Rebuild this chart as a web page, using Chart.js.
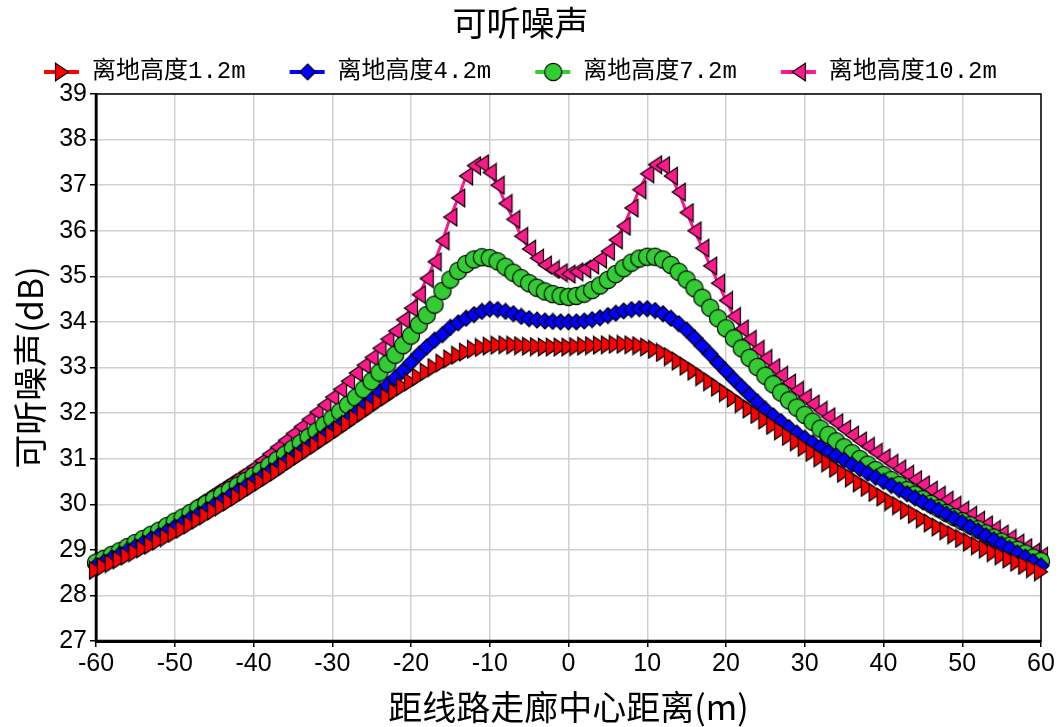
<!DOCTYPE html>
<html>
<head>
<meta charset="utf-8">
<script src="https://cdn.jsdelivr.net/npm/chart.js@4/dist/chart.umd.min.js"></script>
<style>
  html, body { margin: 0; padding: 0; background: #ffffff; }
  #wrap { width: 1059px; height: 727px; }
</style>
</head>
<body>
<div id="wrap"><canvas id="chart" width="1059" height="727"></canvas></div>
<script>
// Distance from the corridor centre line (m)
const distances = [
  -60, -59, -58, -57, -56, -55, -54, -53, -52, -51,
  -50, -49, -48, -47, -46, -45, -44, -43, -42, -41,
  -40, -39, -38, -37, -36, -35, -34, -33, -32, -31,
  -30, -29, -28, -27, -26, -25, -24, -23, -22, -21,
  -20, -19, -18, -17, -16, -15, -14, -13, -12, -11,
  -10, -9, -8, -7, -6, -5, -4, -3, -2, -1,
  0,
  1, 2, 3, 4, 5, 6, 7, 8, 9, 10,
  11, 12, 13, 14, 15, 16, 17, 18, 19, 20,
  21, 22, 23, 24, 25, 26, 27, 28, 29, 30,
  31, 32, 33, 34, 35, 36, 37, 38, 39, 40,
  41, 42, 43, 44, 45, 46, 47, 48, 49, 50,
  51, 52, 53, 54, 55, 56, 57, 58, 59, 60
];

// Audible noise (dB) at 1.2 m above ground
const noiseH12 = [
  28.55, 28.63, 28.70, 28.78, 28.86, 28.94, 29.02, 29.10, 29.19, 29.27,
  29.36, 29.45, 29.55, 29.65, 29.75, 29.85, 29.95, 30.05, 30.16, 30.27,
  30.38, 30.49, 30.60, 30.71, 30.83, 30.95, 31.06, 31.18, 31.29, 31.41,
  31.52, 31.64, 31.76, 31.88, 32.00, 32.12, 32.24, 32.35, 32.47, 32.58,
  32.68, 32.79, 32.90, 33.00, 33.10, 33.19, 33.27, 33.34, 33.40, 33.44,
  33.47, 33.49, 33.50, 33.49, 33.48, 33.47, 33.46, 33.45, 33.45, 33.45,
  33.45,
  33.46, 33.47, 33.48, 33.49, 33.50, 33.51, 33.51, 33.50, 33.48, 33.45,
  33.40, 33.33, 33.24, 33.14, 33.03, 32.92, 32.80, 32.69, 32.57, 32.45,
  32.33, 32.21, 32.09, 31.97, 31.85, 31.73, 31.61, 31.49, 31.37, 31.25,
  31.14, 31.02, 30.91, 30.79, 30.68, 30.58, 30.47, 30.37, 30.26, 30.16,
  30.06, 29.97, 29.87, 29.78, 29.68, 29.59, 29.50, 29.42, 29.33, 29.25,
  29.17, 29.09, 29.02, 28.94, 28.87, 28.80, 28.73, 28.66, 28.59, 28.52
];

// Audible noise (dB) at 4.2 m above ground
const noiseH42 = [
  28.65, 28.73, 28.82, 28.90, 28.99, 29.07, 29.15, 29.24, 29.32, 29.41,
  29.50, 29.59, 29.69, 29.78, 29.88, 29.98, 30.08, 30.18, 30.29, 30.39,
  30.50, 30.60, 30.71, 30.81, 30.92, 31.03, 31.15, 31.26, 31.38, 31.50,
  31.62, 31.74, 31.86, 32.00, 32.15, 32.29, 32.44, 32.61, 32.77, 32.93,
  33.11, 33.29, 33.45, 33.60, 33.72, 33.88, 33.98, 34.08, 34.16, 34.23,
  34.28, 34.27, 34.23, 34.18, 34.12, 34.07, 34.04, 34.02, 34.01, 34.00,
  34.00,
  34.00, 34.02, 34.05, 34.09, 34.14, 34.19, 34.24, 34.27, 34.29, 34.29,
  34.25, 34.18, 34.08, 33.96, 33.82, 33.65, 33.47, 33.29, 33.10, 32.92,
  32.74, 32.57, 32.40, 32.24, 32.08, 31.94, 31.81, 31.68, 31.56, 31.45,
  31.35, 31.25, 31.15, 31.06, 30.97, 30.87, 30.78, 30.68, 30.59, 30.50,
  30.41, 30.32, 30.23, 30.14, 30.05, 29.96, 29.87, 29.78, 29.69, 29.60,
  29.50, 29.41, 29.31, 29.22, 29.12, 29.03, 28.93, 28.84, 28.74, 28.65
];

// Audible noise (dB) at 7.2 m above ground
const noiseH72 = [
  28.72, 28.80, 28.89, 28.97, 29.06, 29.15, 29.24, 29.33, 29.42, 29.52,
  29.62, 29.71, 29.81, 29.91, 30.01, 30.11, 30.21, 30.31, 30.41, 30.51,
  30.62, 30.73, 30.85, 30.97, 31.09, 31.22, 31.34, 31.47, 31.60, 31.74,
  31.88, 32.03, 32.18, 32.34, 32.52, 32.70, 32.89, 33.08, 33.28, 33.49,
  33.70, 33.94, 34.15, 34.38, 34.68, 34.93, 35.12, 35.27, 35.37, 35.42,
  35.40, 35.33, 35.21, 35.08, 34.96, 34.85, 34.75, 34.67, 34.61, 34.57,
  34.55,
  34.57, 34.62, 34.70, 34.80, 34.92, 35.05, 35.18, 35.30, 35.39, 35.43,
  35.43, 35.37, 35.25, 35.10, 34.93, 34.74, 34.53, 34.31, 34.08, 33.86,
  33.64, 33.42, 33.21, 33.01, 32.82, 32.63, 32.45, 32.28, 32.12, 31.96,
  31.81, 31.66, 31.52, 31.38, 31.25, 31.12, 30.99, 30.87, 30.75, 30.64,
  30.53, 30.42, 30.31, 30.21, 30.11, 30.01, 29.91, 29.81, 29.72, 29.63,
  29.54, 29.45, 29.36, 29.27, 29.18, 29.09, 29.00, 28.92, 28.83, 28.75
];

// Audible noise (dB) at 10.2 m above ground
const noiseH102 = [
  28.78, 28.86, 28.94, 29.03, 29.11, 29.20, 29.29, 29.38, 29.48, 29.58,
  29.68, 29.79, 29.90, 30.02, 30.13, 30.25, 30.36, 30.47, 30.58, 30.69,
  30.81, 30.95, 31.10, 31.25, 31.40, 31.55, 31.70, 31.86, 32.02, 32.18,
  32.35, 32.52, 32.70, 32.88, 33.05, 33.22, 33.42, 33.62, 33.80, 34.05,
  34.30, 34.60, 34.95, 35.32, 35.78, 36.30, 36.72, 37.20, 37.43, 37.47,
  37.28, 37.00, 36.60, 36.25, 35.88, 35.60, 35.40, 35.25, 35.15, 35.08,
  35.05,
  35.10, 35.16, 35.25, 35.38, 35.55, 35.80, 36.10, 36.50, 36.90, 37.25,
  37.45, 37.43, 37.20, 36.85, 36.40, 36.00, 35.62, 35.23, 34.85, 34.47,
  34.12, 33.85, 33.62, 33.40, 33.20, 33.00, 32.83, 32.66, 32.50, 32.34,
  32.20, 32.06, 31.92, 31.79, 31.65, 31.52, 31.39, 31.27, 31.14, 31.02,
  30.90, 30.78, 30.66, 30.54, 30.43, 30.31, 30.20, 30.09, 29.98, 29.87,
  29.76, 29.65, 29.55, 29.45, 29.35, 29.25, 29.15, 29.05, 28.95, 28.86
];

const seriesNames = ['离地高度1.2m', '离地高度4.2m', '离地高度7.2m', '离地高度10.2m'];
const yTicks = [27, 28, 29, 30, 31, 32, 33, 34, 35, 36, 37, 38, 39];
const xTicks = [-60, -50, -40, -30, -20, -10, 0, 10, 20, 30, 40, 50, 60];

const CJK = '"Noto Sans CJK SC", "Noto Sans", sans-serif';
const LATIN = '"Liberation Sans", Arial, sans-serif';

// ---- marker sprites -------------------------------------------------------
function sprite(w, h, draw) {
  const c = document.createElement('canvas');
  c.width = w; c.height = h;
  const g = c.getContext('2d');
  g.lineJoin = 'miter';
  draw(g);
  return c;
}
function outline(g, fill) {
  g.fillStyle = fill; g.fill();
  g.lineWidth = 1.2; g.strokeStyle = '#000000'; g.stroke();
}
const triRight = fill => sprite(16, 20, g => {
  g.beginPath(); g.moveTo(1.5, 1.2); g.lineTo(14.6, 10); g.lineTo(1.5, 18.8); g.closePath(); outline(g, fill);
});
const triLeft = fill => sprite(16, 20, g => {
  g.beginPath(); g.moveTo(14.5, 1.2); g.lineTo(1.4, 10); g.lineTo(14.5, 18.8); g.closePath(); outline(g, fill);
});
const diamond = fill => sprite(18, 18, g => {
  g.beginPath(); g.moveTo(9, 1); g.lineTo(17, 9); g.lineTo(9, 17); g.lineTo(1, 9); g.closePath(); outline(g, fill);
});
const disc = fill => sprite(20, 20, g => {
  g.beginPath(); g.arc(10, 10, 8.6, 0, Math.PI * 2); outline(g, fill);
});

const colours = ['#ff0000', '#0000ff', '#33cc33', '#ff1493'];
const markers = [triRight('#ff0000'), diamond('#0000ff'), disc('#33cc33'), triLeft('#ff1a8c')];

// legend swatch: short line with the marker in its middle
const SWATCH_W = 66;
function swatch(colour, marker) {
  return sprite(SWATCH_W, 24, g => {
    g.strokeStyle = colour; g.lineWidth = 4;
    g.beginPath(); g.moveTo(30, 12); g.lineTo(65, 12); g.stroke();
    g.drawImage(marker, Math.round(47.5 - marker.width / 2), Math.round(12 - marker.height / 2));
  });
}
const swatches = colours.map((c, i) => swatch(c, markers[i]));

const seriesValues = [noiseH12, noiseH42, noiseH72, noiseH102];

const datasets = seriesValues.map((vals, i) => ({
  label: seriesNames[i],
  data: distances.map((d, k) => ({ x: d, y: vals[k] })),
  borderColor: colours[i],
  backgroundColor: colours[i],
  borderWidth: 3,
  pointStyle: markers[i],
  pointRadius: 9,
  pointHoverRadius: 9,
  tension: 0,
  clip: false
}));

// black frame around the plot area
const plotFrame = {
  id: 'plotFrame',
  beforeDatasetsDraw(chart) {
    const { ctx, chartArea: a } = chart;
    ctx.save();
    ctx.strokeStyle = '#000000';
    ctx.lineWidth = 1.5;
    ctx.strokeRect(a.left, a.top, a.right - a.left, a.bottom - a.top);
    ctx.lineWidth = 2.5;
    ctx.beginPath();
    ctx.moveTo(a.left, a.top); ctx.lineTo(a.left, a.bottom); ctx.lineTo(a.right, a.bottom);
    ctx.stroke();
    ctx.restore();
  }
};

new Chart(document.getElementById('chart'), {
  type: 'line',
  data: { datasets },
  plugins: [plotFrame],
  options: {
    responsive: false,
    animation: false,
    devicePixelRatio: 1,
    layout: { padding: { top: 0, right: 18, bottom: 0, left: 0 } },
    plugins: {
      tooltip: { enabled: false },
      title: {
        display: true,
        text: '可听噪声',
        color: '#000000',
        font: { family: CJK, size: 34, weight: 'normal' },
        padding: { top: 2.6, bottom: 2.6 }
      },
      legend: {
        display: true,
        align: 'start',
        labels: {
          color: '#000000',
          font: { family: '"Liberation Mono", ' + CJK, size: 24 },
          padding: 14,
          usePointStyle: true,
          pointStyleWidth: SWATCH_W,
          generateLabels(chart) {
            return chart.data.datasets.map((ds, i) => ({
              text: ds.label,
              fillStyle: colours[i],
              strokeStyle: colours[i],
              fontColor: '#000000',
              lineWidth: 0,
              pointStyle: swatches[i],
              hidden: false,
              datasetIndex: i
            }));
          }
        }
      }
    },
    scales: {
      x: {
        type: 'linear',
        min: -60,
        max: 60,
        afterBuildTicks(axis) { axis.ticks = xTicks.map(v => ({ value: v })); },
        afterFit(axis) { axis.height = 86; },
        ticks: {
          color: '#000000',
          font: { family: LATIN, size: 25 },
          padding: 2,
          maxRotation: 0
        },
        grid: { color: '#d0d0d0', lineWidth: 1.5, tickColor: '#000000', tickLength: 6, tickWidth: 1.5 },
        border: { display: true, color: '#000000', width: 3 },
        title: {
          display: true,
          text: '距线路走廊中心距离(m)',
          color: '#000000',
          font: { family: CJK, size: 34, weight: 'normal' },
          padding: { top: 0, bottom: 0 }
        }
      },
      y: {
        type: 'linear',
        min: 27,
        max: 39,
        afterBuildTicks(axis) { axis.ticks = yTicks.map(v => ({ value: v })); },
        afterFit(axis) { axis.width = 96; },
        ticks: {
          color: '#000000',
          font: { family: LATIN, size: 25 },
          padding: 3
        },
        grid: { color: '#d0d0d0', lineWidth: 1.5, tickColor: '#000000', tickLength: 6, tickWidth: 1.5 },
        border: { display: true, color: '#000000', width: 2.5 },
        title: {
          display: true,
          text: '可听噪声(dB)',
          color: '#000000',
          font: { family: CJK, size: 34, weight: 'normal' },
          padding: { top: 10, bottom: 0 }
        }
      }
    }
  }
});
</script>
</body>
</html>
